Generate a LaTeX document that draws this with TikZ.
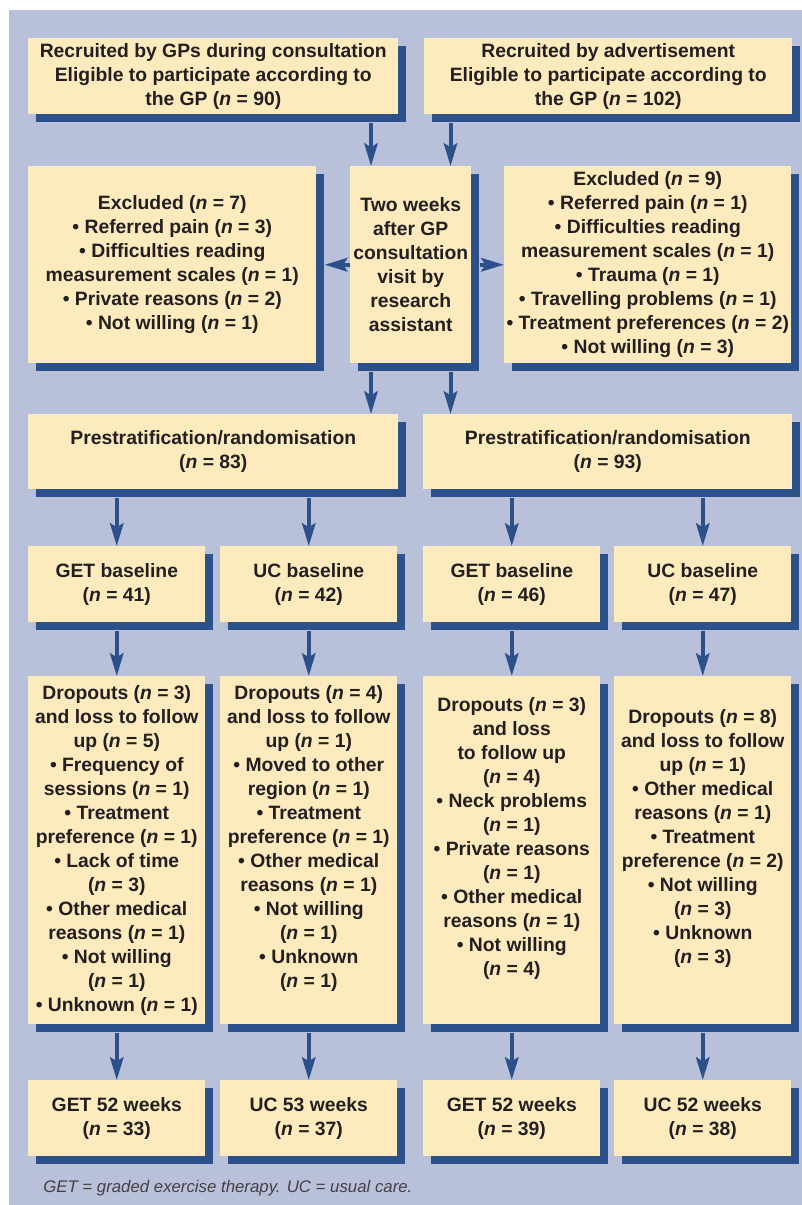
\documentclass[tikz,border=0pt]{standalone}
\usepackage{fontspec}
\setmainfont{Liberation Sans}
\usetikzlibrary{shadows,arrows.meta}
\definecolor{panel}{HTML}{B8C0DA}
\definecolor{boxy}{HTML}{FDEBBE}
\definecolor{sblue}{HTML}{2C5089}
\definecolor{ink}{HTML}{231F20}
\newcommand{\myn}{\textit{n}}
\begin{document}
\begin{tikzpicture}[x=0.75pt,y=-0.75pt,
  box/.style={fill=boxy, inner sep=0pt, anchor=north west, align=center, text=ink,
    font=\fontsize{14.5}{18}\selectfont\bfseries,
    general shadow={fill=sblue, shadow xshift=6pt, shadow yshift=-6pt}},
  txt/.style={inner sep=0pt, align=center, text=ink, font=\fontsize{14.5}{18}\selectfont\bfseries},
  arr/.style={draw=sblue, line width=3pt, -{Stealth[length=17pt,width=10pt,inset=3pt]}},
  colbox/.style={box, minimum width=132.75pt}
]
\useasboundingbox (0,0) rectangle (802,1205);
\fill[panel] (9,10) rectangle (802,1205);

% row 1
\node[box, minimum width=277.5pt, minimum height=57pt] (A) at (28,38)
  {Recruited by GPs during consultation\\Eligible to participate according to\\the GP (\myn{} = 90)};
\node[box, minimum width=276pt, minimum height=57pt] (B) at (424,38)
  {Recruited by advertisement\\Eligible to participate according to\\the GP (\myn{} = 102)};

% row 2
\node[box, minimum width=216pt, minimum height=147.75pt] (exl) at (28,166)
  {Excluded (\myn{} = 7)\\\textbullet\ Referred pain (\myn{} = 3)\\\textbullet\ Difficulties reading\\measurement scales (\myn{} = 1)\\\textbullet\ Private reasons (\myn{} = 2)\\\textbullet\ Not willing (\myn{} = 1)};
\node[box, minimum width=90.75pt, minimum height=147.75pt] (mid) at (350,166)
  {Two weeks\\after GP\\consultation\\visit by\\research\\assistant};
\node[box, minimum width=215.25pt, minimum height=147.75pt] (exr) at (504,166)
  {Excluded (\myn{} = 9)\\\textbullet\ Referred pain (\myn{} = 1)\\\textbullet\ Difficulties reading\\measurement scales (\myn{} = 1)\\\textbullet\ Trauma (\myn{} = 1)\\\textbullet\ Travelling problems (\myn{} = 1)\\\textbullet\ Treatment preferences (\myn{} = 2)\\\textbullet\ Not willing (\myn{} = 3)};

% row 3
\node[box, minimum width=277.5pt, minimum height=56.25pt] (PL) at (28,414)
  {Prestratification/randomisation\\(\myn{} = 83)};
\node[box, minimum width=276.75pt, minimum height=56.25pt] (PR) at (423,414)
  {Prestratification/randomisation\\(\myn{} = 93)};

% row 4
\node[colbox, minimum height=57pt] (g1) at (28,546) {GET baseline\\(\myn{} = 41)};
\node[colbox, minimum height=57pt] (u1) at (220,546) {UC baseline\\(\myn{} = 42)};
\node[colbox, minimum height=57pt] (g2) at (423,546) {GET baseline\\(\myn{} = 46)};
\node[colbox, minimum height=57pt] (u2) at (614,546) {UC baseline\\(\myn{} = 47)};

% row 5
\node[colbox, minimum height=261pt] (d1) at (28,676) {};
\node[colbox, minimum height=261pt] (d2) at (220,676) {};
\node[colbox, minimum height=261pt] (d3) at (423,676) {};
\node[colbox, minimum height=261pt] (d4) at (614,676) {};
\node[txt] (t1) at (d1.center)
  {Dropouts (\myn{} = 3)\\and loss to follow\\up (\myn{} = 5)\\\textbullet\ Frequency of\\sessions (\myn{} = 1)\\\textbullet\ Treatment\\preference (\myn{} = 1)\\\textbullet\ Lack of time\\(\myn{} = 3)\\\textbullet\ Other medical\\reasons (\myn{} = 1)\\\textbullet\ Not willing\\(\myn{} = 1)\\\textbullet\ Unknown (\myn{} = 1)};
\node[txt] (t2) at ([yshift=9pt]d2.center)
  {Dropouts (\myn{} = 4)\\and loss to follow\\up (\myn{} = 1)\\\textbullet\ Moved to other\\region (\myn{} = 1)\\\textbullet\ Treatment\\preference (\myn{} = 1)\\\textbullet\ Other medical\\reasons (\myn{} = 1)\\\textbullet\ Not willing\\(\myn{} = 1)\\\textbullet\ Unknown\\(\myn{} = 1)};
\node[txt] (t3) at ([yshift=9pt]d3.center)
  {Dropouts (\myn{} = 3)\\and loss\\to follow up\\(\myn{} = 4)\\\textbullet\ Neck problems\\(\myn{} = 1)\\\textbullet\ Private reasons\\(\myn{} = 1)\\\textbullet\ Other medical\\reasons (\myn{} = 1)\\\textbullet\ Not willing\\(\myn{} = 4)};
\node[txt] (t4) at ([yshift=9pt]d4.center)
  {Dropouts (\myn{} = 8)\\and loss to follow\\up (\myn{} = 1)\\\textbullet\ Other medical\\reasons (\myn{} = 1)\\\textbullet\ Treatment\\preference (\myn{} = 2)\\\textbullet\ Not willing\\(\myn{} = 3)\\\textbullet\ Unknown\\(\myn{} = 3)};

% row 6
\node[colbox, minimum height=57pt] (w1) at (28,1080) {GET 52 weeks\\(\myn{} = 33)};
\node[colbox, minimum height=57pt] (w2) at (220,1080) {UC 53 weeks\\(\myn{} = 37)};
\node[colbox, minimum height=57pt] (w3) at (423,1080) {GET 52 weeks\\(\myn{} = 39)};
\node[colbox, minimum height=57pt] (w4) at (614,1080) {UC 52 weeks\\(\myn{} = 38)};

\node[anchor=west, inner sep=0pt, text=ink!85, font=\fontsize{12.6}{15}\selectfont\itshape] (foot) at (43,1188)
  {GET = graded exercise therapy. UC = usual care.};

% helper coordinates
\coordinate (m1) at ([xshift=15.75pt]mid.north west);
\coordinate (m2) at ([xshift=-15.75pt]mid.north east);
\coordinate (As) at ([yshift=-6pt]A.south);
\coordinate (mids) at ([yshift=-6pt]mid.south);
\coordinate (exle) at ([xshift=6pt]exl.east);
\coordinate (mide) at ([xshift=6pt]mid.east);
\coordinate (PLs) at ([yshift=-6pt]PL.south);
\coordinate (PRs) at ([yshift=-6pt]PR.south);

% connectors
\draw[arr] (m1 |- As) -- (m1);
\draw[arr] (m2 |- As) -- (m2);
\draw[arr] (mid.west) -- (exle);
\draw[arr] (mide) -- (exr.west);
\draw[arr] (m1 |- mids) -- (m1 |- PL.north);
\draw[arr] (m2 |- mids) -- (m2 |- PR.north);
\draw[arr] (g1.north |- PLs) -- (g1.north);
\draw[arr] (u1.north |- PLs) -- (u1.north);
\draw[arr] (g2.north |- PRs) -- (g2.north);
\draw[arr] (u2.north |- PRs) -- (u2.north);
\draw[arr] ([yshift=-6pt]g1.south) -- (d1.north);
\draw[arr] ([yshift=-6pt]u1.south) -- (d2.north);
\draw[arr] ([yshift=-6pt]g2.south) -- (d3.north);
\draw[arr] ([yshift=-6pt]u2.south) -- (d4.north);
\draw[arr] ([yshift=-6pt]d1.south) -- (w1.north);
\draw[arr] ([yshift=-6pt]d2.south) -- (w2.north);
\draw[arr] ([yshift=-6pt]d3.south) -- (w3.north);
\draw[arr] ([yshift=-6pt]d4.south) -- (w4.north);
\end{tikzpicture}
\end{document}
